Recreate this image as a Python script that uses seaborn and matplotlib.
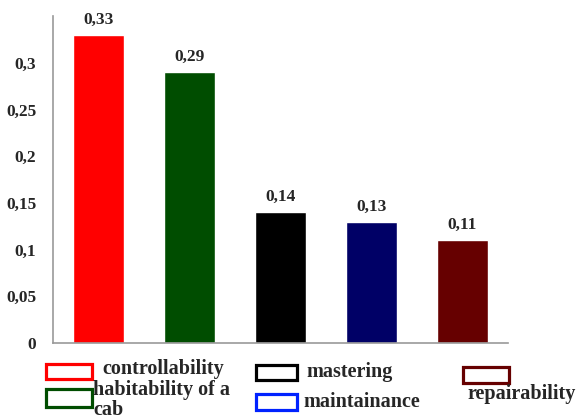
import pandas as pd
import matplotlib
matplotlib.use("Agg")
import matplotlib.pyplot as plt
from matplotlib.patches import Rectangle
import seaborn as sns

# Chart data
categories = ["controllability", "habitability of a cab", "mastering", "maintainance", "repairability"]
values = [0.33, 0.29, 0.14, 0.13, 0.11]
bar_colors = ["#ff0000", "#004d00", "#000000", "#000066", "#660000"]
legend_edge_colors = ["#ff0000", "#004d00", "#000000", "#0022ff", "#660000"]
legend_texts = ["controllability", "habitability of a\ncab", "mastering", "maintainance", "repairability"]
y_ticks = [0, 0.05, 0.1, 0.15, 0.2, 0.25, 0.3]

df = pd.DataFrame({"category": categories, "value": values})

sns.set_style("white")
plt.rcParams["font.family"] = ["Liberation Serif", "DejaVu Serif"]

W, H = 577, 420
fig = plt.figure(figsize=(W / 100, H / 100), dpi=100)
ax = fig.add_axes([53 / W, 1 - 343 / H, (508 - 53) / W, (343 - 16) / H])

sns.barplot(data=df, x="category", y="value", hue="category", palette=bar_colors,
            order=categories, hue_order=categories, width=0.56, legend=False,
            saturation=1, ax=ax)

ax.set_ylim(0, 0.35)
ax.set_xlim(-0.5, 4.5)
ax.set_yticks(y_ticks)
ax.set_yticklabels([("%g" % t).replace(".", ",") for t in y_ticks],
                   fontsize=12.5, fontweight="bold")
ax.tick_params(axis="y", length=0, pad=12)
ax.set_xticks([])
ax.set_xlabel("")
ax.set_ylabel("")

for side in ["top", "right"]:
    ax.spines[side].set_visible(False)
for side in ["left", "bottom"]:
    ax.spines[side].set_color("#999999")
    ax.spines[side].set_linewidth(1.2)

# value labels above bars
for container in ax.containers:
    labels = [f"{b.get_height():.2f}".replace(".", ",") for b in container]
    ax.bar_label(container, labels=labels, padding=5, fontsize=12.5, fontweight="bold")

# legend drawn under the axes, laid out like the original
def px_rect(x0, y0, x1, y1, color):
    fig.patches.append(Rectangle((x0 / W, 1 - y1 / H), (x1 - x0) / W, (y1 - y0) / H,
                                 transform=fig.transFigure, facecolor="white",
                                 edgecolor=color, linewidth=2.3))

rects = [(46, 364, 92, 379), (46, 389, 92, 407), (256, 365, 297, 380),
         (256, 394, 297, 410), (463, 367, 509, 383)]
text_pos = [(102, 369), (93, 390), (306, 372), (303, 402), (467, 394)]

for r, c, (tx, ty), txt in zip(rects, legend_edge_colors, text_pos, legend_texts):
    px_rect(*r, c)
    if "\n" in txt:
        first, second = txt.split("\n")
        fig.text(tx / W, 1 - ty / H, first, fontsize=14.5, fontweight="bold", va="center", ha="left")
        fig.text(tx / W, 1 - 410 / H, second, fontsize=14.5, fontweight="bold", va="center", ha="left")
    else:
        fig.text(tx / W, 1 - ty / H, txt, fontsize=14.5, fontweight="bold", va="center", ha="left")

fig.savefig("out.png", dpi=100)
